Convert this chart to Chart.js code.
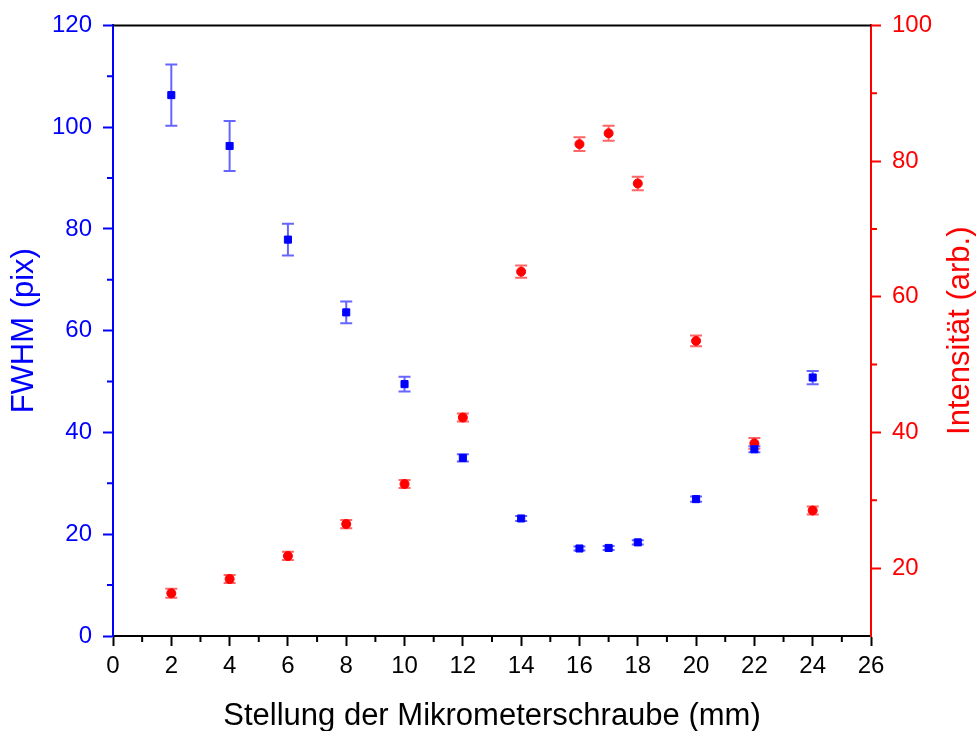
<!DOCTYPE html>
<html>
<head>
<meta charset="utf-8">
<title>FWHM und Intensität</title>
<script src="https://cdn.jsdelivr.net/npm/chart.js@4.4.0/dist/chart.umd.min.js"></script>
<style>
    html, body { margin: 0; padding: 0; background: #fff; }
    #wrap { width: 976px; height: 731px; }
</style>
</head>
<body>
<div id="wrap"><canvas id="chart" width="976" height="731"></canvas></div>
<script>
// Data
const positions = [2, 4, 6, 8, 10, 12, 14, 16, 17, 18, 20, 22, 24];
const fwhm = [106.3, 96.3, 77.9, 63.6, 49.5, 35.0, 23.1, 17.2, 17.3, 18.4, 26.9, 36.7, 50.8];
const fwhmErr = [6.0, 4.9, 3.1, 2.15, 1.45, 0.7, 0.5, 0.4, 0.4, 0.4, 0.5, 0.6, 1.3];
const intensity = [16.3, 18.4, 21.8, 26.5, 32.4, 42.2, 63.7, 82.5, 84.1, 76.7, 53.5, 38.4, 28.5];
const intensityErr = [0.65, 0.6, 0.6, 0.6, 0.6, 0.6, 0.9, 1.0, 1.1, 1.0, 0.8, 0.8, 0.6];

// Axis ticks
const xMinorTicks = [1, 3, 5, 7, 9, 11, 13, 15, 17, 19, 21, 23, 25];
const leftMinorTicks = [10, 30, 50, 70, 90, 110];
const rightMajorTicks = [20, 40, 60, 80, 100];
const rightMinorTicks = [30, 50, 70, 90];

const FONT = '"Liberation Sans", Arial, sans-serif';
const BLUE = '#0000ff';
const RED = '#ff0000';

function toPoints(xs, ys) {
    return xs.map((x, i) => ({ x: x, y: ys[i] }));
}

// Error bars, minor ticks, top frame line and right title
const extrasPlugin = {
    id: 'extras',
    beforeDatasetsDraw(chart) {
        const ctx = chart.ctx;
        const xScale = chart.scales.x;
        chart.data.datasets.forEach(ds => {
            const yScale = chart.scales[ds.yAxisID];
            ctx.save();
            ctx.strokeStyle = ds.errColor;
            ctx.lineWidth = 2;
            ds.data.forEach((p, i) => {
                const px = xScale.getPixelForValue(p.x);
                const top = yScale.getPixelForValue(p.y + ds.errors[i]);
                const bot = yScale.getPixelForValue(p.y - ds.errors[i]);
                ctx.beginPath();
                ctx.moveTo(px, top);
                ctx.lineTo(px, bot);
                ctx.moveTo(px - 6, top);
                ctx.lineTo(px + 6, top);
                ctx.moveTo(px - 6, bot);
                ctx.lineTo(px + 6, bot);
                ctx.stroke();
            });
            ctx.restore();
        });
    },
    afterDraw(chart) {
        const ctx = chart.ctx;
        const area = chart.chartArea;
        const { x, y, y1 } = chart.scales;
        ctx.save();
        ctx.lineWidth = 2;

        // minor ticks
        ctx.strokeStyle = '#000';
        ctx.beginPath();
        xMinorTicks.forEach(v => {
            const px = x.getPixelForValue(v);
            ctx.moveTo(px, area.bottom);
            ctx.lineTo(px, area.bottom + 6);
        });
        ctx.stroke();

        ctx.strokeStyle = BLUE;
        ctx.beginPath();
        leftMinorTicks.forEach(v => {
            const py = y.getPixelForValue(v);
            ctx.moveTo(area.left, py);
            ctx.lineTo(area.left - 6, py);
        });
        ctx.stroke();

        ctx.strokeStyle = RED;
        ctx.beginPath();
        rightMinorTicks.forEach(v => {
            const py = y1.getPixelForValue(v);
            ctx.moveTo(area.right, py);
            ctx.lineTo(area.right + 6, py);
        });
        ctx.stroke();

        // top frame line
        ctx.strokeStyle = '#000';
        ctx.beginPath();
        ctx.moveTo(area.left, area.top);
        ctx.lineTo(area.right, area.top);
        ctx.stroke();

        // right axis title, reading bottom to top
        ctx.translate(960, (area.top + area.bottom) / 2);
        ctx.rotate(-Math.PI / 2);
        ctx.fillStyle = RED;
        ctx.font = '31px ' + FONT;
        ctx.textAlign = 'center';
        ctx.textBaseline = 'middle';
        ctx.fillText('Intensität (arb.)', 0, 0);
        ctx.restore();
    }
};

const ctx = document.getElementById('chart');

new Chart(ctx, {
    type: 'scatter',
    data: {
        datasets: [{
            label: 'FWHM',
            data: toPoints(positions, fwhm),
            errors: fwhmErr,
            errColor: 'rgba(0, 0, 255, 0.6)',
            yAxisID: 'y',
            pointStyle: 'rect',
            pointRadius: 5,
            pointBorderWidth: 1,
            backgroundColor: BLUE,
            borderColor: BLUE
        }, {
            label: 'Intensität',
            data: toPoints(positions, intensity),
            errors: intensityErr,
            errColor: 'rgba(255, 0, 0, 0.6)',
            yAxisID: 'y1',
            pointStyle: 'circle',
            pointRadius: 4.5,
            pointBorderWidth: 1,
            backgroundColor: RED,
            borderColor: RED
        }]
    },
    options: {
        responsive: false,
        animation: false,
        devicePixelRatio: 1,
        layout: { padding: { top: 23, left: 0, right: 0, bottom: 0 } },
        plugins: {
            legend: { display: false },
            tooltip: { enabled: false }
        },
        scales: {
            x: {
                type: 'linear',
                min: 0,
                max: 26,
                afterFit: s => { s.height = 95; },
                ticks: {
                    stepSize: 2,
                    color: '#000',
                    padding: 6,
                    font: { family: FONT, size: 24 }
                },
                grid: { drawOnChartArea: false, tickLength: 10, tickWidth: 2, tickColor: '#000' },
                border: { color: '#000', width: 2 },
                title: {
                    display: true,
                    text: 'Stellung der Mikrometerschraube (mm)',
                    color: '#000',
                    padding: { top: 0, bottom: 0 },
                    font: { family: FONT, size: 31, lineHeight: 0.95 }
                }
            },
            y: {
                position: 'left',
                min: 0,
                max: 120,
                afterFit: s => { s.width = 113; },
                ticks: {
                    stepSize: 20,
                    color: BLUE,
                    padding: 11,
                    font: { family: FONT, size: 24 }
                },
                grid: { drawOnChartArea: false, tickLength: 10, tickWidth: 2, tickColor: BLUE },
                border: { color: BLUE, width: 2 },
                title: {
                    display: true,
                    text: 'FWHM (pix)',
                    color: BLUE,
                    padding: { top: 9, bottom: 0 },
                    font: { family: FONT, size: 31, lineHeight: 1 }
                }
            },
            y1: {
                position: 'right',
                min: 10,
                max: 100,
                afterFit: s => { s.width = 105; },
                afterBuildTicks: s => { s.ticks = rightMajorTicks.map(v => ({ value: v })); },
                ticks: {
                    color: RED,
                    padding: 11,
                    font: { family: FONT, size: 24 }
                },
                grid: { drawOnChartArea: false, tickLength: 10, tickWidth: 2, tickColor: RED },
                border: { color: RED, width: 2 }
            }
        }
    },
    plugins: [extrasPlugin]
});
</script>
</body>
</html>
